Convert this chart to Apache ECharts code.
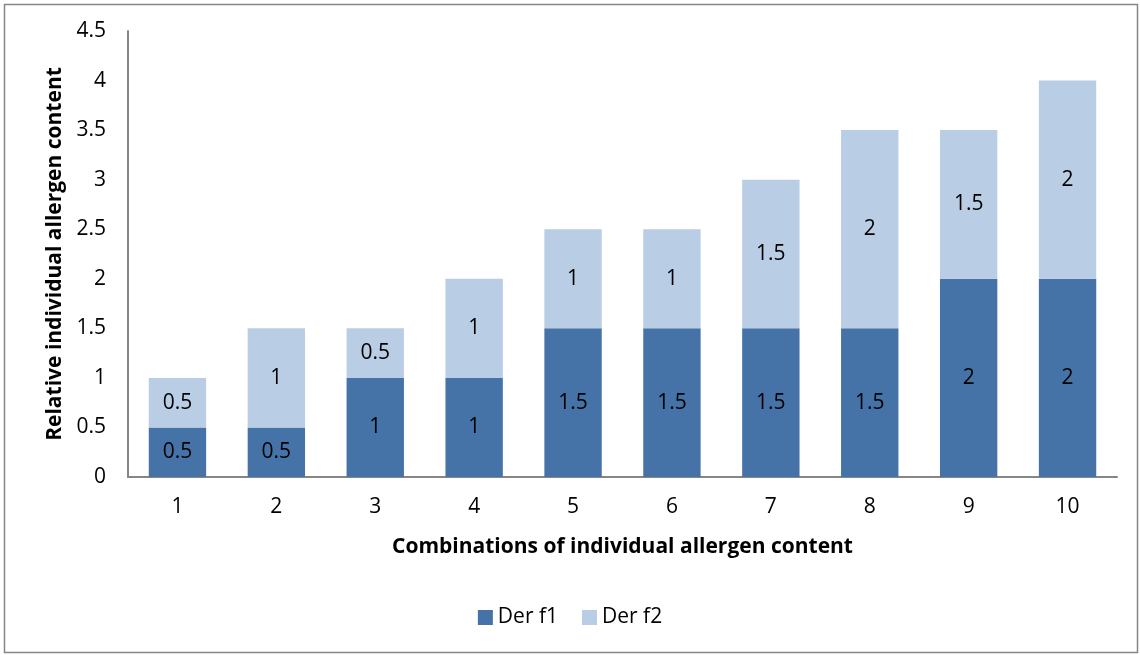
<!DOCTYPE html>
<html>
<head>
<meta charset="utf-8">
<script src="https://cdn.jsdelivr.net/npm/echarts@6/dist/echarts.min.js"></script>
<style>
  html, body { margin: 0; padding: 0; background: #fff; }
  #chart { width: 1140px; height: 655px; }
</style>
</head>
<body>
<div id="chart"></div>
<script>
// data
var categories = ['1', '2', '3', '4', '5', '6', '7', '8', '9', '10']
var derF1 = [0.5, 0.5, 1, 1, 1.5, 1.5, 1.5, 1.5, 2, 2]
var derF2 = [0.5, 1, 0.5, 1, 1, 1, 1.5, 2, 1.5, 2]
var seriesNames = ['Der f1', 'Der f2']

var font = 'Open Sans, Liberation Sans, sans-serif'
var chart = echarts.init(document.getElementById('chart'))

var barLabel = {
  show: true,
  position: 'inside',
  color: '#000',
  fontSize: 21,
  fontFamily: font
}

chart.setOption({
  animation: false,
  backgroundColor: '#fff',
  graphic: [{
    type: 'rect',
    shape: { x: 4.5, y: 4.5, width: 1133, height: 648 },
    style: { fill: 'none', stroke: '#868686', lineWidth: 1.5 },
    silent: true
  }],
  grid: {
    left: 128,
    right: 23,
    top: 31,
    bottom: 178
  },
  legend: {
    data: seriesNames,
    bottom: 22,
    left: 'center',
    itemWidth: 15,
    itemHeight: 15,
    itemGap: 24,
    icon: 'rect',
    textStyle: { fontSize: 21, color: '#000', fontFamily: font }
  },
  xAxis: {
    type: 'category',
    data: categories,
    name: 'Combinations of individual allergen content',
    nameLocation: 'middle',
    nameGap: 60,
    nameTextStyle: { fontSize: 21, fontWeight: 'bold', color: '#000', fontFamily: font },
    axisLine: { lineStyle: { color: '#868686', width: 2 } },
    axisTick: { show: false },
    axisLabel: { fontSize: 21, color: '#000', margin: 20, fontFamily: font }
  },
  yAxis: {
    type: 'value',
    min: 0,
    max: 4.5,
    interval: 0.5,
    name: 'Relative individual allergen content',
    nameLocation: 'middle',
    nameGap: 62,
    nameTextStyle: { fontSize: 21, fontWeight: 'bold', color: '#000', fontFamily: font },
    axisLine: { show: true, lineStyle: { color: '#868686', width: 2 } },
    axisTick: { show: false },
    splitLine: { show: false },
    axisLabel: { fontSize: 21, color: '#000', margin: 22, fontFamily: font }
  },
  series: [
    {
      name: seriesNames[0],
      type: 'bar',
      stack: 'total',
      barWidth: '58%',
      data: derF1,
      itemStyle: { color: '#4572A7' },
      label: barLabel
    },
    {
      name: seriesNames[1],
      type: 'bar',
      stack: 'total',
      barWidth: '58%',
      data: derF2,
      itemStyle: { color: '#B9CDE5' },
      label: barLabel
    }
  ]
})
</script>
</body>
</html>
